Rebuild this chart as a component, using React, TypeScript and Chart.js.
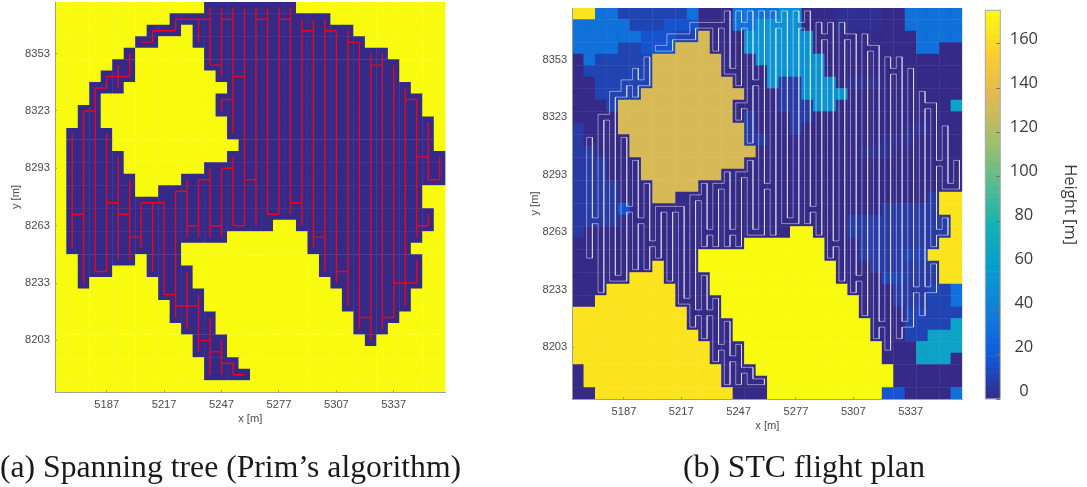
import React, { useEffect, useRef } from "react";
import { Chart, registerables } from "chart.js";

Chart.register(...registerables);

const xTicks = [5187, 5217, 5247, 5277, 5307, 5337];
const yTicks = [8203, 8233, 8263, 8293, 8323, 8353];
const barTicks = [0, 20, 40, 60, 80, 100, 120, 140, 160];
const X_MIN = 5160;
const X_MAX = 5364;
const Y_MIN = 8176;
const Y_MAX = 8380;
const CELL = 6;
const HEIGHT_MAX = 175;

// Free (coverable) column spans for each grid row, top row first.
const freeSpans: number[][][] = [
  [[13, 20]], [[10, 23]], [[8, 10], [12, 25]], [[7, 8], [12, 26]], [[6, 6], [13, 28]],
  [[5, 6], [13, 29]], [[4, 6], [14, 29]], [[3, 5], [15, 30]], [[3, 3], [14, 31]], [[2, 3], [14, 31]],
  [[2, 3], [15, 32]], [[1, 4], [15, 32]], [[1, 4], [16, 32]], [[1, 5], [15, 33]], [[1, 5], [13, 33]],
  [[1, 6], [11, 33]], [[1, 6], [9, 31]], [[1, 31]], [[1, 32]], [[1, 18], [21, 32]],
  [[1, 14], [22, 31]], [[1, 10], [22, 30]], [[2, 6], [8, 10], [23, 31]], [[2, 4], [8, 11], [23, 31]],
  [[2, 2], [9, 11], [24, 31]], [[9, 12], [25, 30]], [[10, 12], [25, 30]], [[10, 13], [26, 29]],
  [[11, 13], [26, 28]], [[12, 14], [27, 27]], [[12, 14]], [[13, 15]], [[13, 16]], [],
];

// Height codes of the terrain, one character per cell.
const heightLevels: Record<string, number> = { d: 0, f: 2.5, e: 6.5, b: 10, m: 16, a: 32, c: 52, t: 65, T: 133, G: 165, Y: 175 };
const heightRows = [
  "GGaabbbbbbadddaaaaccdddffffddaaaaa",
  "aaaaabbbmmmdddaaccccdddffffddaaaaa",
  "aaaaaammmbbTdddccccccdddddddddaaaa",
  "aaaabbmmmTTTdddccccccdddddddddaadd",
  "dabbbbbTTTTTTdddccccccdddddddddddd",
  "dbbbbbbTTTTTTddddcccccdddddddddddd",
  "ddbbbbbTTTTTTTdddceecccdfffddddddd",
  "ddbbbbTTTTTTTTTdddeeccccdddddddddd",
  "dddbTTTTTTTTTTddddeeeccddddddddddt",
  "ddddTTTTTTTTTTdedddeeddddddddddddd",
  "edddTTTTTTTTTTTedddedddddddddffddd",
  "eddddTTTTTTTTTTeeddddddddddfffdddd",
  "eedddTTTTTTTTTTTdddddddddfffdddddd",
  "eeedddTTTTTTTTTddddddddddddddddddd",
  "eeedddTTTTTTTddddddddddddddddddddd",
  "eeeedddTTTTddddddddddddddddddddddd",
  "eeeedddTTddddddddddddddddddddddeGG",
  "eeeemddddddddddddddddddddddeeeeeGG",
  "eeeeddddddddddddddddddddeeeeeeeeeG",
  "edddddddddddddddddd" + "YYdddeeeeeeeeeG",
  "dddddddddddddddYYYYYYYdddeeeeeeeGG",
  "dddddddddddYYYYYYYYYYYdddeeeebbGGG",
  "dddddddGdddYYYYYYYYYYYYdddeeeeeeGG",
  "dddddGGGddddYYYYYYYYYYYddddbbeeeGG",
  "dddGGGGGGdddYYYYYYYYYYYYddddeeebba",
  "ddGGGGGGGddddYYYYYYYYYYYYdddeeebba",
  "GGGGGGGGGGdddYYYYYYYYYYYYddddbbbbb",
  "GGGGGGGGGGddddYYYYYYYYYYYYdddbbbbt",
  "GGGGGGGGGGGdddYYYYYYYYYYYYdddbbttt",
  "GGGGGGGGGGGGdddYYYYYYYYYYYYdddtttt",
  "GGGGGGGGGGGGdddYYYYYYYYYYYYdddtttd",
  "dGGGGGGGGGGGGdddYYYYYYYYYYYYdddddd",
  "dGGGGGGGGGGGGddddYYYYYYYYYYYdddddd",
  "ddGGGGGGGGGGGGdddYYYYYYYYYYmmdddda",
];

// Spanning tree: [column, first row, last row]
const treeVertical: number[][] = [
  [1, 11, 21], [2, 9, 24], [3, 7, 23], [4, 6, 7], [5, 5, 7], [6, 4, 6], [4, 11, 23], [5, 13, 22], [6, 15, 22],
  [7, 17, 21], [8, 17, 23], [9, 17, 25], [10, 16, 27], [11, 15, 20], [11, 23, 28], [12, 15, 20], [12, 25, 30],
  [13, 14, 20], [13, 27, 32], [14, 14, 20], [14, 29, 32], [15, 13, 19], [15, 31, 32], [16, 0, 19], [15, 0, 11],
  [14, 0, 6], [13, 0, 5], [12, 1, 3], [10, 1, 2], [8, 2, 3], [14, 8, 9], [17, 0, 19], [18, 0, 18], [19, 0, 18],
  [20, 0, 18], [21, 1, 19], [22, 1, 21], [23, 1, 23], [24, 2, 24], [25, 2, 26], [26, 3, 28], [27, 4, 29],
  [28, 4, 28], [29, 5, 27], [30, 7, 26], [31, 8, 20], [31, 22, 24], [32, 10, 15], [32, 18, 19], [33, 13, 15],
];
// Spanning tree: [row, first column, last column]
const treeHorizontal: number[][] = [
  [18, 1, 2], [9, 2, 3], [7, 3, 4], [6, 4, 6], [23, 3, 4], [17, 4, 5], [18, 5, 6], [20, 6, 7], [17, 7, 9],
  [25, 9, 10], [16, 10, 11], [26, 10, 12], [19, 11, 12], [15, 12, 13], [19, 13, 14], [14, 14, 15], [19, 15, 16],
  [29, 12, 13], [30, 13, 14], [31, 14, 15], [32, 15, 16], [6, 15, 16], [1, 14, 15], [5, 13, 14], [1, 10, 13],
  [2, 8, 10], [3, 7, 8], [8, 14, 15], [15, 16, 17], [1, 17, 18], [18, 18, 19], [1, 19, 20], [17, 20, 21],
  [2, 21, 22], [20, 22, 23], [2, 23, 24], [23, 24, 25], [3, 25, 26], [27, 26, 27], [5, 27, 28], [27, 28, 29],
  [24, 29, 31], [8, 30, 31], [13, 31, 32], [19, 31, 32], [15, 32, 33],
];

const parulaStops = [
  [53, 42, 135], [15, 92, 221], [18, 125, 216], [7, 156, 207], [21, 177, 180],
  [89, 189, 140], [165, 190, 107], [225, 185, 82], [252, 206, 46], [249, 251, 14],
];

const YELLOW = "#f9fb0e";
const DARK = "#352a87";
const TEXT = "#4a4a4a";
const SANS = "'Liberation Sans', sans-serif";

function parula(value: number) {
  const t = Math.min(1, Math.max(0, value / HEIGHT_MAX)) * (parulaStops.length - 1);
  const i = Math.min(parulaStops.length - 2, Math.floor(t));
  const f = t - i;
  const c = parulaStops[i].map((a, k) => Math.round(a + (parulaStops[i + 1][k] - a) * f));
  return `rgb(${c[0]},${c[1]},${c[2]})`;
}

const cx = (col: number) => X_MIN + CELL * (col + 0.5);
const cy = (row: number) => Y_MAX - CELL * (row + 0.5);

function treeSegments() {
  const pts: { x: number; y: number }[] = [];
  treeVertical.forEach(([c, a, b]) => pts.push({ x: cx(c), y: cy(a) }, { x: cx(c), y: cy(b) }, { x: NaN, y: NaN }));
  treeHorizontal.forEach(([r, a, b]) => pts.push({ x: cx(a), y: cy(r) }, { x: cx(b), y: cy(r) }, { x: NaN, y: NaN }));
  return pts;
}

// The STC flight plan goes round the spanning tree, a quarter of a cell off it.
function treeContour() {
  const links = new Set<string>();
  const nodes = new Set<string>();
  const link = (c1: number, r1: number, c2: number, r2: number) => {
    links.add(`${c1},${r1},${c2},${r2}`);
    links.add(`${c2},${r2},${c1},${r1}`);
    nodes.add(`${c1},${r1}`);
    nodes.add(`${c2},${r2}`);
  };
  treeVertical.forEach(([c, a, b]) => { for (let r = a; r < b; r++) link(c, r, c, r + 1); });
  treeHorizontal.forEach(([r, a, b]) => { for (let c = a; c < b; c++) link(c, r, c + 1, r); });
  const q = CELL / 4;
  const key = (x: number, y: number) => `${x},${y}`;
  const next = new Map<string, { x: number; y: number }>();
  const dirs = [
    { dc: 0, dr: -1, a: [-1, 1], b: [1, 1], n: [-1, -1] },
    { dc: 1, dr: 0, a: [1, 1], b: [1, -1], n: [-1, 1] },
    { dc: 0, dr: 1, a: [1, -1], b: [-1, -1], n: [1, 1] },
    { dc: -1, dr: 0, a: [-1, -1], b: [-1, 1], n: [1, -1] },
  ];
  nodes.forEach((n) => {
    const [c, r] = n.split(",").map(Number);
    dirs.forEach((d) => {
      const ax = cx(c) + d.a[0] * q;
      const ay = cy(r) + d.a[1] * q;
      if (links.has(`${c},${r},${c + d.dc},${r + d.dr}`)) {
        next.set(key(ax, ay), { x: cx(c + d.dc) + d.n[0] * q, y: cy(r + d.dr) + d.n[1] * q });
      } else {
        next.set(key(ax, ay), { x: cx(c) + d.b[0] * q, y: cy(r) + d.b[1] * q });
      }
    });
  });
  const seen = new Set<string>();
  const pts: { x: number; y: number }[] = [];
  next.forEach((_, k) => {
    if (seen.has(k)) return;
    const [sx, sy] = k.split(",").map(Number);
    let p = { x: sx, y: sy };
    while (p && !seen.has(key(p.x, p.y))) {
      seen.add(key(p.x, p.y));
      pts.push(p);
      p = next.get(key(p.x, p.y)) as { x: number; y: number };
    }
    pts.push({ x: sx, y: sy }, { x: NaN, y: NaN });
  });
  return pts;
}

function leftCells() {
  const data: { x: number; y: number }[] = [];
  const colors: string[] = [];
  for (let r = 0; r < heightRows.length; r++) {
    for (let c = 0; c < heightRows[r].length; c++) {
      data.push({ x: cx(c), y: cy(r) });
      colors.push(freeSpans[r].some(([a, b]) => c >= a && c <= b) ? DARK : YELLOW);
    }
  }
  return { data, colors };
}

function rightCells() {
  const data: { x: number; y: number }[] = [];
  const colors: string[] = [];
  heightRows.forEach((row, r) => {
    row.split("").forEach((code, c) => {
      data.push({ x: cx(c), y: cy(r) });
      colors.push(parula(heightLevels[code]));
    });
  });
  return { data, colors };
}

function cellDataset(cells: { data: { x: number; y: number }[]; colors: string[] }) {
  return {
    data: cells.data,
    pointStyle: "rect",
    pointRadius: 8.42,
    pointHoverRadius: 8.42,
    pointBorderWidth: 0,
    pointBackgroundColor: cells.colors,
    showLine: false,
  };
}

function lineDataset(data: { x: number; y: number }[], color: string, width: number) {
  return {
    data,
    showLine: true,
    pointRadius: 0,
    borderColor: color,
    borderWidth: width,
    tension: 0,
    spanGaps: false,
    borderJoinStyle: "miter",
  };
}

const fixSize = (width?: number, height?: number) => (s: any) => {
  if (width !== undefined) s.width = width;
  if (height !== undefined) s.height = height;
  s.paddingLeft = 0;
  s.paddingRight = 0;
  s.paddingTop = 0;
  s.paddingBottom = 0;
};

interface PanelGeometry {
  caption: string;
  captionAlign: string;
  captionPadding: { top: number; bottom: number };
  padTop: number;
  padRight: number;
  yWidth: number;
  xHeight: number;
  yTitlePad: number;
}

function panelOptions(g: PanelGeometry) {
  const tickFont = { family: SANS, size: 11.2 };
  const axisGrid = { drawOnChartArea: false, drawTicks: true, tickLength: -2, color: "rgba(90,90,90,0.5)", z: 1 };
  const axisBorder = { display: true, color: "rgba(150,150,140,0.9)", width: 1, z: 1 };
  return {
    animation: false,
    responsive: false,
    devicePixelRatio: 1,
    events: [],
    layout: { autoPadding: false, padding: { left: 0, top: g.padTop, right: 0, bottom: 0 } },
    plugins: {
      legend: { display: false },
      tooltip: { enabled: false },
      title: {
        display: true,
        position: "bottom",
        text: g.caption,
        align: g.captionAlign,
        color: "#1a1a1a",
        font: { family: "'Liberation Serif', serif", size: 31.7, weight: "normal", lineHeight: 1.1 },
        padding: g.captionPadding,
      },
    },
    scales: {
      x: {
        type: "linear",
        min: X_MIN,
        max: X_MAX,
        grid: axisGrid,
        border: axisBorder,
        afterBuildTicks: (s: any) => { s.ticks = xTicks.map((value) => ({ value })); },
        afterFit: fixSize(undefined, g.xHeight),
        ticks: { autoSkip: false, maxRotation: 0, color: TEXT, font: tickFont, padding: 8, callback: (v: any) => String(v) },
        title: { display: true, text: "x [m]", color: TEXT, font: tickFont, padding: 0 },
      },
      y: {
        type: "linear",
        min: Y_MIN,
        max: Y_MAX,
        grid: axisGrid,
        border: axisBorder,
        afterBuildTicks: (s: any) => { s.ticks = yTicks.map((value) => ({ value })); },
        afterFit: fixSize(g.yWidth),
        ticks: { autoSkip: false, color: TEXT, font: tickFont, padding: 7, callback: (v: any) => String(v) },
        title: { display: true, text: "y [m]", color: TEXT, font: tickFont, padding: { top: g.yTitlePad, bottom: 0 } },
      },
      // Empty axis: keeps the room on the right of the plot without narrowing the caption's box.
      margin: {
        type: "linear",
        position: "right",
        min: 0,
        max: 1,
        afterBuildTicks: (s: any) => { s.ticks = []; },
        afterFit: fixSize(g.padRight),
        ticks: { display: false },
        grid: { display: false },
        border: { display: false },
      },
    },
  };
}

const barFrame = {
  id: "barFrame",
  afterDatasetsDraw(chart: any) {
    const { ctx, chartArea: a } = chart;
    ctx.save();
    ctx.strokeStyle = "#a8a8a8";
    ctx.lineWidth = 1;
    ctx.strokeRect(a.left, a.top, a.right - a.left, a.bottom - a.top);
    ctx.restore();
  },
};

export default function App() {
  const leftRef = useRef<HTMLCanvasElement>(null);
  const rightRef = useRef<HTMLCanvasElement>(null);
  const barRef = useRef<HTMLCanvasElement>(null);

  useEffect(() => {
    const left = new Chart(leftRef.current as HTMLCanvasElement, {
      type: "scatter",
      data: { datasets: [lineDataset(treeSegments(), "#e8071f", 1.4), cellDataset(leftCells())] },
      options: panelOptions({
        caption: "(a) Spanning tree (Prim’s algorithm)",
        captionAlign: "start",
        captionPadding: { top: 25, bottom: 1.13 },
        padTop: 2,
        padRight: 54.5,
        yWidth: 55,
        xHeight: 34,
        yTitlePad: 9,
      }),
    } as any);

    const right = new Chart(rightRef.current as HTMLCanvasElement, {
      type: "scatter",
      data: { datasets: [lineDataset(treeContour(), "rgba(255,255,255,0.47)", 1), cellDataset(rightCells())] },
      options: panelOptions({
        caption: "(b) STC flight plan",
        captionAlign: "center",
        captionPadding: { top: 18.4, bottom: 1.03 },
        padTop: 8,
        padRight: 124.7,
        yWidth: 51.3,
        xHeight: 33.7,
        yTitlePad: 7,
      }),
    } as any);

    const levels = 64;
    const bar = new Chart(barRef.current as HTMLCanvasElement, {
      type: "bar",
      data: {
        labels: [""],
        datasets: Array.from({ length: levels }, (_, i) => ({
          data: [HEIGHT_MAX / levels],
          backgroundColor: parula(((i + 0.5) * HEIGHT_MAX) / levels),
          borderColor: parula(((i + 0.5) * HEIGHT_MAX) / levels),
          borderWidth: 0,
          barPercentage: 1,
          categoryPercentage: 1,
        })),
      },
      options: {
        animation: false,
        responsive: false,
        devicePixelRatio: 1,
        events: [],
        layout: { autoPadding: false, padding: { left: 15.3, top: 10.3, right: 0, bottom: 88 } },
        plugins: { legend: { display: false }, tooltip: { enabled: false } },
        scales: {
          x: { display: false, stacked: true },
          y: {
            stacked: true,
            position: "right",
            min: 0,
            max: HEIGHT_MAX,
            afterBuildTicks: (s: any) => { s.ticks = barTicks.map((value) => ({ value })); },
            afterFit: fixSize(0),
            ticks: { display: false },
            border: { display: false },
            grid: { drawOnChartArea: false, drawTicks: true, tickLength: -4, color: "#707070", z: 1 },
          },
          yLabels: {
            position: "right",
            min: -3.64,
            max: 173,
            afterBuildTicks: (s: any) => { s.ticks = barTicks.map((value) => ({ value })); },
            afterFit: fixSize(86.7),
            grid: { display: false, drawTicks: false },
            border: { display: false },
            ticks: {
              autoSkip: false,
              color: "#3a3a3a",
              crossAlign: "center",
              padding: 9.4,
              font: { family: "'Open Sans', sans-serif", size: 16.5 },
              callback: (v: any) => String(v),
            },
            title: {
              display: true,
              text: "Height [m]",
              color: "#3a3a3a",
              font: { family: "'Open Sans', sans-serif", size: 16.5 },
              padding: { top: 7, bottom: 0 },
            },
          },
        },
      },
      plugins: [barFrame],
    } as any);

    return () => {
      left.destroy();
      right.destroy();
      bar.destroy();
    };
  }, []);

  return (
    <div style={{ position: "absolute", left: 0, top: 0, width: 1087, height: 487, overflow: "hidden", background: "#fff" }}>
      <canvas ref={leftRef} width={500} height={487} style={{ position: "absolute", left: 0, top: 0 }} />
      <canvas ref={rightRef} width={566} height={487} style={{ position: "absolute", left: 521, top: 0 }} />
      <canvas ref={barRef} width={117} height={487} style={{ position: "absolute", left: 970, top: 0 }} />
    </div>
  );
}
